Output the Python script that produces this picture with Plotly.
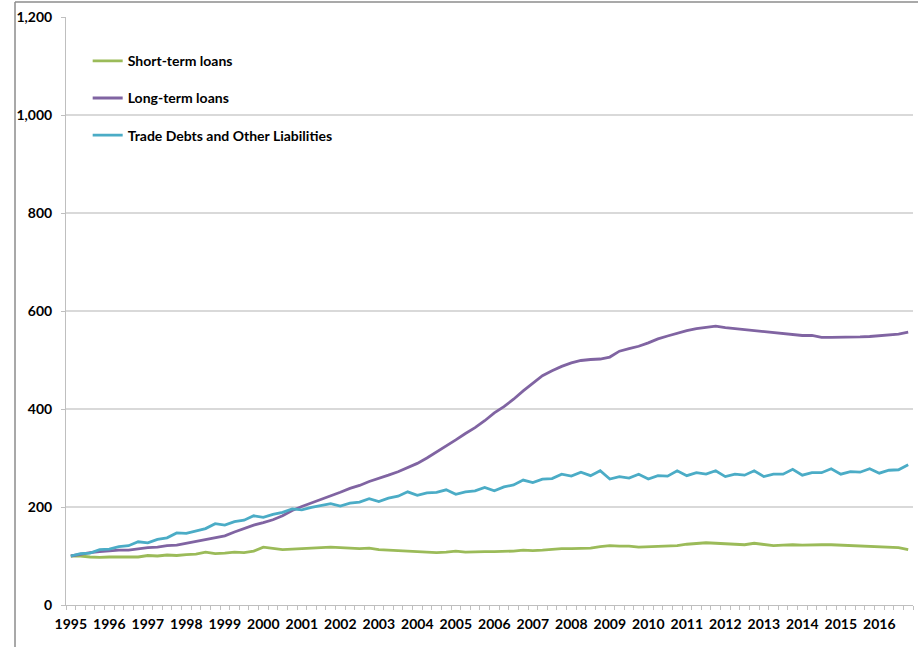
import plotly.graph_objects as go

years = [str(y) for y in range(1995, 2017)]
quarters = list(range(88))

short_term = [100, 100, 98, 97, 98, 98, 99, 98, 101, 100, 102, 101, 103, 104, 108, 105,
              106, 108, 107, 110, 118, 116, 113, 114, 115, 116, 117, 118, 117, 116, 115, 116,
              113, 112, 111, 111, 110, 108, 107, 108, 110, 108, 109, 109, 109, 109, 110, 112,
              111, 112, 114, 115, 115, 115, 116, 119, 121, 120, 120, 118, 119, 119, 120, 121,
              124, 125, 127, 126, 125, 124, 123, 126, 123, 121, 122, 123, 122, 123, 123, 123,
              122, 121, 120, 119, 118, 118, 117, 113]

long_term = [100, 104, 107, 109, 111, 112, 112, 115, 117, 118, 121, 122, 126, 129, 133, 138,
             141, 149, 156, 163, 168, 174, 182, 193, 201, 208, 215, 222, 230, 238, 244, 252,
             258, 265, 272, 280, 289, 300, 312, 324, 337, 350, 362, 376, 392, 405, 420, 437,
             452, 468, 478, 487, 494, 499, 501, 502, 506, 518, 523, 528, 535, 543, 549, 555,
             560, 564, 567, 569, 566, 564, 562, 560, 557, 555, 553, 551, 550, 550, 546, 546,
             546, 546, 547, 548, 550, 552, 553, 557]

trade_debts = [100, 105, 106, 113, 114, 119, 121, 129, 127, 134, 137, 147, 146, 151, 156, 166,
               163, 170, 173, 182, 179, 185, 189, 196, 194, 199, 203, 207, 202, 208, 210, 217,
               211, 218, 222, 231, 224, 229, 230, 235, 226, 231, 233, 240, 233, 241, 245, 255,
               250, 257, 258, 267, 263, 271, 264, 274, 257, 262, 259, 267, 257, 264, 263, 274,
               264, 270, 267, 274, 262, 267, 265, 274, 262, 267, 267, 277, 265, 270, 270, 278,
               267, 272, 271, 278, 269, 275, 276, 286]

series_names = ["Short-term loans", "Long-term loans", "Trade Debts and Other Liabilities"]
series_values = [short_term, long_term, trade_debts]
series_colors = ["#9BBB59", "#8064A2", "#4BACC6"]

font_family = "Lato, Calibri, 'Open Sans', sans-serif"
fsize = 14

fig = go.Figure()
for i, (name, vals, col) in enumerate(zip(series_names, series_values, series_colors)):
    fig.add_trace(go.Scatter(
        x=quarters, y=vals, mode="lines", name=name,
        line=dict(color=col, width=2.8),
        legendgroup=f"g{i}",
    ))

fig.update_layout(
    width=918, height=647,
    margin=dict(l=66, r=5, t=17, b=42),
    paper_bgcolor="white", plot_bgcolor="white",
    font=dict(family=font_family, size=fsize, color="#000000", weight="bold"),
    showlegend=True,
    legend=dict(
        x=0.0256, y=0.952, xanchor="left", yanchor="top",
        bgcolor="rgba(0,0,0,0)",
        font=dict(family=font_family, size=fsize, color="#000000", weight="bold"),
        traceorder="grouped", tracegroupgap=16,
        itemwidth=30,
    ),
    xaxis=dict(
        range=[-0.5, 87.5],
        tickmode="array",
        tickvals=[4 * k for k in range(len(years))],
        ticktext=years,
        ticks="",
        ticklabelstandoff=6,
        showgrid=False,
        showline=True, linecolor="#BFBFBF", linewidth=1,
        zeroline=False,
        tickfont=dict(family=font_family, size=fsize, color="#000000", weight="bold"),
        minor=dict(tick0=-0.5, dtick=1, ticks="outside", ticklen=4,
                   tickcolor="#BFBFBF", tickwidth=1, showgrid=False),
    ),
    yaxis=dict(
        range=[0, 1200],
        tickvals=[0, 200, 400, 600, 800, 1000, 1200],
        ticktext=["0", "200", "400", "600", "800", "1,000", "1,200"],
        ticks="outside", ticklen=4, tickcolor="#BFBFBF",
        ticklabelstandoff=6,
        showgrid=True, gridcolor="#D9D9D9", gridwidth=1.5,
        showline=True, linecolor="#BFBFBF", linewidth=1,
        zeroline=False,
        tickfont=dict(family=font_family, size=fsize, color="#000000", weight="bold"),
    ),
    shapes=[
        dict(type="line", xref="paper", yref="paper",
             x0=-0.0602, x1=1.2, y0=1.0255, y1=1.0255,
             line=dict(color="#8C8C8C", width=1.5)),
        dict(type="line", xref="paper", yref="paper",
             x0=-0.0602, x1=-0.0602, y0=-0.2, y1=1.0255,
             line=dict(color="#8C8C8C", width=1.5)),
    ],
)

fig.write_html("out.html")
